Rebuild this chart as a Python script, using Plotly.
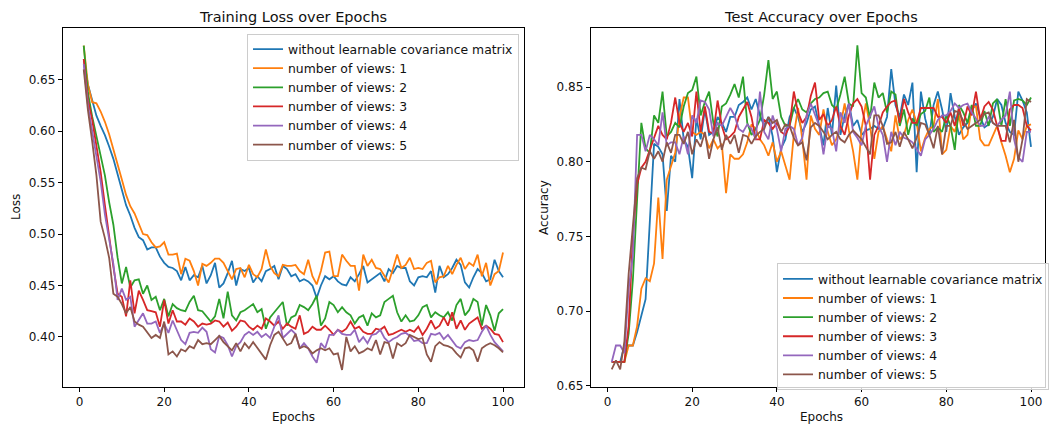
import plotly.graph_objects as go

epochs = list(range(1, 101))

series_names = [
    "without learnable covariance matrix",
    "number of views: 1",
    "number of views: 2",
    "number of views: 3",
    "number of views: 4",
    "number of views: 5",
]
series_colors = ["#1f77b4", "#ff7f0e", "#2ca02c", "#d62728", "#9467bd", "#8c564b"]

# ---------------- Training loss ----------------
loss_without = [
    0.670, 0.645, 0.630, 0.615, 0.605, 0.596, 0.585, 0.573, 0.558, 0.542,
    0.528, 0.518, 0.506, 0.497, 0.494, 0.485, 0.487, 0.487, 0.478, 0.472,
    0.468, 0.467, 0.464, 0.455, 0.468, 0.455, 0.460, 0.458, 0.469, 0.452,
    0.460, 0.472, 0.448, 0.452, 0.462, 0.474, 0.450, 0.466, 0.464, 0.467,
    0.453, 0.459, 0.454, 0.464, 0.466, 0.469, 0.456, 0.469, 0.466, 0.459,
    0.461, 0.454, 0.456, 0.454, 0.450, 0.438, 0.450, 0.459, 0.456, 0.459,
    0.454, 0.451, 0.450, 0.458, 0.454, 0.461, 0.469, 0.453, 0.456, 0.459,
    0.462, 0.454, 0.466, 0.462, 0.469, 0.467, 0.467, 0.454, 0.450, 0.458,
    0.459, 0.458, 0.464, 0.443, 0.469, 0.458, 0.461, 0.467, 0.475, 0.470,
    0.453, 0.448, 0.458, 0.466, 0.462, 0.454, 0.456, 0.475, 0.464, 0.458,
]
loss_views_1 = [
    0.683, 0.645, 0.628, 0.627, 0.619, 0.609, 0.597, 0.583, 0.568, 0.553,
    0.538, 0.527, 0.520, 0.510, 0.500, 0.499, 0.492, 0.487, 0.488, 0.492,
    0.480, 0.480, 0.481, 0.461, 0.476, 0.474, 0.464, 0.450, 0.471, 0.469,
    0.472, 0.476, 0.476, 0.472, 0.464, 0.456, 0.466, 0.467, 0.458, 0.470,
    0.461, 0.458, 0.466, 0.485, 0.469, 0.462, 0.459, 0.470, 0.469, 0.469,
    0.470, 0.464, 0.461, 0.475, 0.459, 0.451, 0.464, 0.482, 0.483, 0.459,
    0.459, 0.480, 0.474, 0.469, 0.469, 0.445, 0.480, 0.469, 0.475, 0.467,
    0.466, 0.459, 0.453, 0.466, 0.480, 0.467, 0.470, 0.477, 0.466, 0.467,
    0.466, 0.472, 0.474, 0.453, 0.458, 0.459, 0.469, 0.461, 0.470, 0.477,
    0.466, 0.472, 0.469, 0.480, 0.459, 0.472, 0.450, 0.461, 0.464, 0.482,
]
loss_views_2 = [
    0.683, 0.637, 0.614, 0.595, 0.576, 0.557, 0.531, 0.509, 0.477, 0.452,
    0.468, 0.448, 0.455, 0.456, 0.442, 0.450, 0.436, 0.439, 0.426, 0.437,
    0.420, 0.432, 0.428, 0.426, 0.425, 0.434, 0.440, 0.426, 0.425, 0.420,
    0.415, 0.420, 0.437, 0.418, 0.444, 0.421, 0.416, 0.424, 0.426, 0.429,
    0.432, 0.424, 0.427, 0.408, 0.419, 0.424, 0.429, 0.434, 0.411, 0.419,
    0.421, 0.431, 0.429, 0.426, 0.432, 0.440, 0.411, 0.418, 0.434, 0.431,
    0.424, 0.429, 0.424, 0.421, 0.413, 0.419, 0.421, 0.411, 0.423, 0.419,
    0.421, 0.434, 0.437, 0.440, 0.424, 0.415, 0.421, 0.415, 0.416, 0.421,
    0.429, 0.431, 0.419, 0.424, 0.421, 0.419, 0.424, 0.416, 0.431, 0.437,
    0.421, 0.426, 0.437, 0.434, 0.411, 0.431, 0.421, 0.406, 0.423, 0.427,
]
loss_views_3 = [
    0.670, 0.630, 0.611, 0.586, 0.560, 0.528, 0.496, 0.468, 0.442, 0.439,
    0.420, 0.455, 0.423, 0.445, 0.436, 0.426, 0.425, 0.424, 0.410, 0.436,
    0.413, 0.426, 0.415, 0.415, 0.412, 0.418, 0.415, 0.410, 0.413, 0.412,
    0.413, 0.416, 0.415, 0.410, 0.414, 0.406, 0.410, 0.416, 0.415, 0.410,
    0.407, 0.411, 0.408, 0.418, 0.415, 0.411, 0.415, 0.408, 0.413, 0.410,
    0.408, 0.421, 0.403, 0.405, 0.410, 0.407, 0.407, 0.411, 0.407, 0.402,
    0.407, 0.405, 0.408, 0.415, 0.408, 0.410, 0.405, 0.403, 0.403, 0.408,
    0.407, 0.410, 0.402, 0.403, 0.405, 0.407, 0.405, 0.407, 0.405, 0.410,
    0.402, 0.408, 0.416, 0.408, 0.411, 0.419, 0.411, 0.424, 0.408, 0.416,
    0.407, 0.413, 0.416, 0.419, 0.408, 0.411, 0.408, 0.403, 0.402, 0.395,
]
loss_views_4 = [
    0.665, 0.625, 0.600, 0.575, 0.551, 0.519, 0.493, 0.471, 0.436, 0.447,
    0.436, 0.439, 0.410, 0.416, 0.423, 0.413, 0.413, 0.415, 0.404, 0.413,
    0.404, 0.416, 0.407, 0.397, 0.393, 0.404, 0.405, 0.404, 0.409, 0.405,
    0.388, 0.385, 0.401, 0.399, 0.392, 0.381, 0.391, 0.395, 0.402, 0.405,
    0.402, 0.405, 0.400, 0.403, 0.399, 0.410, 0.421, 0.399, 0.403, 0.407,
    0.403, 0.389, 0.394, 0.389, 0.381, 0.375, 0.394, 0.389, 0.402, 0.402,
    0.407, 0.403, 0.402, 0.402, 0.407, 0.395, 0.400, 0.394, 0.402, 0.403,
    0.407, 0.399, 0.395, 0.398, 0.400, 0.403, 0.404, 0.401, 0.396, 0.397,
    0.394, 0.394, 0.403, 0.402, 0.404, 0.398, 0.402, 0.396, 0.391, 0.389,
    0.395, 0.397, 0.396, 0.397, 0.405, 0.411, 0.402, 0.395, 0.391, 0.386,
]
loss_views_5 = [
    0.660, 0.620, 0.590, 0.557, 0.512, 0.496, 0.477, 0.442, 0.439, 0.432,
    0.423, 0.429, 0.415, 0.412, 0.410, 0.404, 0.399, 0.402, 0.399, 0.415,
    0.383, 0.386, 0.381, 0.388, 0.386, 0.391, 0.389, 0.397, 0.393, 0.394,
    0.393, 0.397, 0.401, 0.395, 0.391, 0.387, 0.394, 0.386, 0.394, 0.389,
    0.395, 0.389, 0.383, 0.378, 0.392, 0.402, 0.405, 0.399, 0.392, 0.394,
    0.403, 0.389, 0.391, 0.389, 0.384, 0.387, 0.389, 0.387, 0.389, 0.383,
    0.384, 0.368, 0.400, 0.386, 0.391, 0.384, 0.386, 0.389, 0.387, 0.397,
    0.383, 0.395, 0.394, 0.379, 0.394, 0.391, 0.394, 0.402, 0.400, 0.398,
    0.399, 0.383, 0.376, 0.391, 0.395, 0.392, 0.391, 0.389, 0.384, 0.380,
    0.389, 0.390, 0.387, 0.376, 0.389, 0.392, 0.394, 0.392, 0.389, 0.385,
]

# ---------------- Test accuracy ----------------
acc_without = [
    0.666, 0.666, 0.666, 0.677, 0.677, 0.677, 0.686, 0.697, 0.708, 0.760,
    0.812, 0.810, 0.805, 0.767, 0.804, 0.800, 0.842, 0.815, 0.810, 0.789,
    0.829, 0.815, 0.835, 0.818, 0.820, 0.830, 0.826, 0.820, 0.830, 0.830,
    0.838, 0.840, 0.843, 0.835, 0.842, 0.831, 0.824, 0.830, 0.817, 0.793,
    0.809, 0.815, 0.830, 0.836, 0.830, 0.820, 0.826, 0.835, 0.837, 0.824,
    0.811, 0.836, 0.818, 0.851, 0.818, 0.831, 0.839, 0.824, 0.828, 0.818,
    0.821, 0.822, 0.824, 0.822, 0.822, 0.830, 0.862, 0.838, 0.830, 0.845,
    0.838, 0.853, 0.793, 0.847, 0.829, 0.818, 0.838, 0.847, 0.835, 0.820,
    0.846, 0.830, 0.818, 0.823, 0.826, 0.834, 0.839, 0.830, 0.823, 0.825,
    0.830, 0.842, 0.838, 0.826, 0.820, 0.818, 0.847, 0.841, 0.833, 0.810,
]
acc_views_1 = [
    0.666, 0.666, 0.666, 0.666, 0.677, 0.677, 0.690, 0.715, 0.722, 0.720,
    0.732, 0.776, 0.735, 0.788, 0.797, 0.806, 0.830, 0.843, 0.843, 0.820,
    0.818, 0.820, 0.818, 0.809, 0.815, 0.809, 0.812, 0.779, 0.805, 0.802,
    0.802, 0.805, 0.813, 0.825, 0.822, 0.815, 0.811, 0.804, 0.813, 0.800,
    0.807, 0.797, 0.788, 0.818, 0.836, 0.815, 0.788, 0.831, 0.822, 0.818,
    0.835, 0.820, 0.811, 0.815, 0.824, 0.839, 0.821, 0.807, 0.788, 0.822,
    0.839, 0.824, 0.802, 0.820, 0.824, 0.815, 0.807, 0.831, 0.815, 0.818,
    0.828, 0.835, 0.826, 0.807, 0.816, 0.822, 0.824, 0.842, 0.805, 0.808,
    0.824, 0.820, 0.831, 0.815, 0.818, 0.837, 0.837, 0.815, 0.811, 0.811,
    0.818, 0.824, 0.813, 0.804, 0.793, 0.802, 0.821, 0.815, 0.824, 0.825,
]
acc_views_2 = [
    0.666, 0.666, 0.666, 0.666, 0.685, 0.721, 0.775, 0.826, 0.809, 0.806,
    0.831, 0.826, 0.847, 0.817, 0.820, 0.826, 0.823, 0.837, 0.846, 0.848,
    0.857, 0.831, 0.840, 0.847, 0.826, 0.817, 0.837, 0.839, 0.845, 0.852,
    0.843, 0.857, 0.826, 0.818, 0.822, 0.828, 0.845, 0.868, 0.842, 0.847,
    0.830, 0.824, 0.824, 0.836, 0.842, 0.835, 0.833, 0.839, 0.842, 0.843,
    0.846, 0.847, 0.838, 0.835, 0.845, 0.857, 0.839, 0.837, 0.878, 0.846,
    0.843, 0.829, 0.853, 0.843, 0.846, 0.833, 0.847, 0.845, 0.824, 0.835,
    0.818, 0.829, 0.824, 0.832, 0.834, 0.843, 0.820, 0.823, 0.820, 0.831,
    0.824, 0.808, 0.838, 0.833, 0.826, 0.838, 0.824, 0.824, 0.834, 0.824,
    0.839, 0.842, 0.824, 0.842, 0.824, 0.841, 0.842, 0.841, 0.838, 0.843,
]
acc_views_3 = [
    0.666, 0.666, 0.666, 0.666, 0.690, 0.750, 0.785, 0.796, 0.800, 0.808,
    0.817, 0.824, 0.818, 0.815, 0.826, 0.843, 0.826, 0.820, 0.826, 0.817,
    0.847, 0.820, 0.837, 0.820, 0.819, 0.841, 0.824, 0.815, 0.817, 0.820,
    0.830, 0.835, 0.840, 0.830, 0.815, 0.815, 0.828, 0.826, 0.822, 0.826,
    0.820, 0.818, 0.824, 0.847, 0.833, 0.826, 0.830, 0.844, 0.853, 0.828,
    0.832, 0.824, 0.828, 0.837, 0.824, 0.818, 0.831, 0.839, 0.842, 0.837,
    0.824, 0.788, 0.818, 0.824, 0.833, 0.837, 0.840, 0.841, 0.826, 0.842,
    0.833, 0.826, 0.826, 0.836, 0.836, 0.836, 0.836, 0.830, 0.830, 0.826,
    0.833, 0.824, 0.836, 0.824, 0.837, 0.831, 0.847, 0.828, 0.837, 0.840,
    0.835, 0.824, 0.814, 0.814, 0.835, 0.838, 0.838, 0.836, 0.824, 0.821,
]
acc_views_4 = [
    0.666, 0.677, 0.677, 0.672, 0.715, 0.737, 0.818, 0.818, 0.807, 0.818,
    0.815, 0.811, 0.833, 0.811, 0.813, 0.813, 0.805, 0.817, 0.805, 0.831,
    0.826, 0.841, 0.840, 0.835, 0.817, 0.826, 0.824, 0.830, 0.836, 0.831,
    0.822, 0.820, 0.825, 0.822, 0.815, 0.847, 0.820, 0.815, 0.831, 0.822,
    0.807, 0.822, 0.824, 0.822, 0.811, 0.816, 0.831, 0.839, 0.831, 0.824,
    0.805, 0.824, 0.822, 0.807, 0.833, 0.826, 0.839, 0.820, 0.816, 0.811,
    0.824, 0.830, 0.837, 0.824, 0.818, 0.800, 0.820, 0.811, 0.820, 0.816,
    0.815, 0.813, 0.808, 0.804, 0.815, 0.818, 0.822, 0.828, 0.831, 0.831,
    0.834, 0.839, 0.836, 0.838, 0.839, 0.833, 0.829, 0.824, 0.824, 0.830,
    0.826, 0.824, 0.828, 0.831, 0.847, 0.815, 0.803, 0.800, 0.820, 0.820,
]
acc_views_5 = [
    0.661, 0.667, 0.661, 0.680, 0.725, 0.758, 0.789, 0.796, 0.795, 0.807,
    0.802, 0.807, 0.800, 0.813, 0.806, 0.818, 0.818, 0.812, 0.820, 0.805,
    0.815, 0.810, 0.820, 0.802, 0.815, 0.823, 0.808, 0.818, 0.812, 0.818,
    0.806, 0.818, 0.817, 0.812, 0.817, 0.820, 0.822, 0.830, 0.826, 0.828,
    0.820, 0.825, 0.824, 0.816, 0.811, 0.813, 0.801, 0.823, 0.826, 0.824,
    0.820, 0.815, 0.818, 0.820, 0.815, 0.813, 0.818, 0.821, 0.818, 0.815,
    0.810, 0.805, 0.831, 0.831, 0.824, 0.812, 0.813, 0.820, 0.810, 0.820,
    0.815, 0.809, 0.816, 0.826, 0.825, 0.818, 0.809, 0.824, 0.805, 0.824,
    0.824, 0.834, 0.833, 0.828, 0.822, 0.824, 0.826, 0.828, 0.832, 0.833,
    0.826, 0.824, 0.824, 0.824, 0.813, 0.828, 0.800, 0.815, 0.842, 0.840,
]

loss_series = [loss_without, loss_views_1, loss_views_2, loss_views_3, loss_views_4, loss_views_5]
acc_series = [acc_without, acc_views_1, acc_views_2, acc_views_3, acc_views_4, acc_views_5]

x_ticks = [0, 20, 40, 60, 80, 100]
loss_ticks = [0.40, 0.45, 0.50, 0.55, 0.60, 0.65]
acc_ticks = [0.65, 0.70, 0.75, 0.80, 0.85]

W, H = 1049, 434
FONT = "DejaVu Sans"


def fx(p):
    return p / W


def fy(p):
    return 1 - p / H


fig = go.Figure()
for name, color, ys in zip(series_names, series_colors, loss_series):
    fig.add_trace(go.Scatter(x=epochs, y=ys, mode="lines", name=name,
                             line=dict(color=color, width=1.8),
                             xaxis="x", yaxis="y", legend="legend"))
for name, color, ys in zip(series_names, series_colors, acc_series):
    fig.add_trace(go.Scatter(x=epochs, y=ys, mode="lines", name=name,
                             line=dict(color=color, width=1.8),
                             xaxis="x2", yaxis="y2", legend="legend2"))

axis_common = dict(showline=True, linecolor="black", linewidth=1, mirror=True,
                   ticks="outside", ticklen=4, tickwidth=1, tickcolor="black",
                   showgrid=False, zeroline=False,
                   tickfont=dict(family=FONT, size=12, color="#111"))

ydom = [fy(392), fy(28)]
legend_common = dict(bgcolor="rgba(255,255,255,0.8)", bordercolor="#cccccc",
                     borderwidth=1, font=dict(family=FONT, size=12.4, color="#111"),
                     tracegroupgap=0, itemwidth=30)

fig.update_layout(
    width=W, height=H,
    margin=dict(l=0, r=0, t=0, b=0),
    paper_bgcolor="white", plot_bgcolor="white",
    font=dict(family=FONT, size=12, color="#111"),
    xaxis=dict(domain=[fx(63), fx(526)], range=[-3.95, 104.95],
               tickvals=x_ticks, anchor="y", **axis_common),
    yaxis=dict(domain=ydom, range=[0.3518, 0.7005], tickvals=loss_ticks,
               tickformat=".2f", anchor="x", **axis_common),
    xaxis2=dict(domain=[fx(593), 1.0], range=[-3.95, 103.3],
                tickvals=x_ticks, anchor="y2", **axis_common),
    yaxis2=dict(domain=ydom, range=[0.6495, 0.8898], tickvals=acc_ticks,
                tickformat=".2f", anchor="x2", **axis_common),
    legend=dict(x=fx(521), xanchor="right", y=fy(34), yanchor="top", **legend_common),
    legend2=dict(x=fx(780), xanchor="left", y=fy(267), yanchor="top", **legend_common),
    showlegend=True,
)

annots = [
    ("Training Loss over Epochs", 294.5, 17, 14.5, 0),
    ("Test Accuracy over Epochs", 824.5, 17, 14.5, 0),
    ("Epochs", 294.5, 423, 12, 0),
    ("Epochs", 824.5, 423, 12, 0),
    ("Loss", 16, 210, 12, -90),
    ("Accuracy", 546, 210, 12, -90),
]
for text, px, py, size, ang in annots:
    fig.add_annotation(text=text, x=fx(px), y=fy(py), xref="paper", yref="paper",
                       showarrow=False, xanchor="center", yanchor="middle",
                       textangle=ang, font=dict(family=FONT, size=size, color="#111"))

fig.write_html("out.html")
